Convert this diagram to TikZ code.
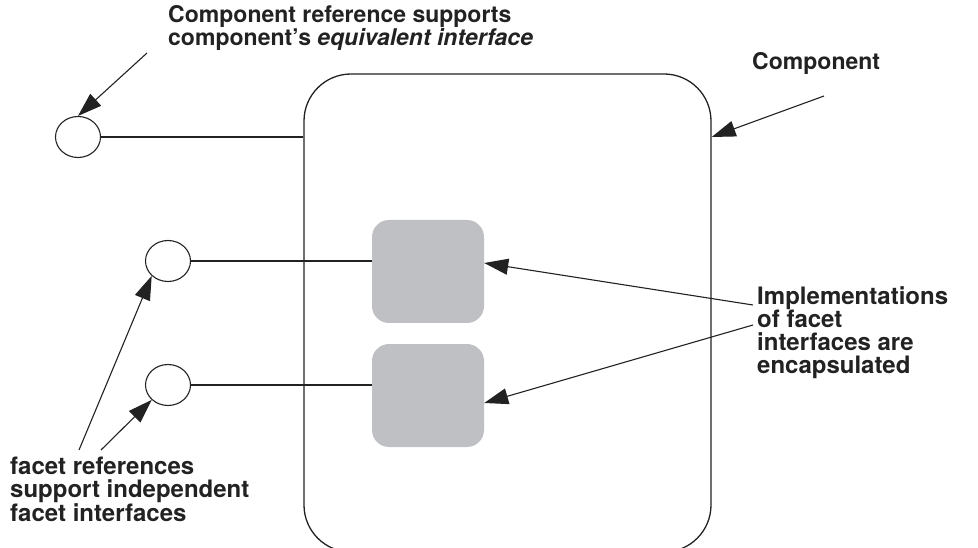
\documentclass[tikz,border=0pt]{standalone}
\usepackage{fontspec}
\setmainfont{TeX Gyre Heros}
\usetikzlibrary{arrows.meta,shapes.geometric}
\definecolor{implgray}{HTML}{BFC0C3}
\definecolor{ink}{HTML}{222222}
\begin{document}
\begin{tikzpicture}[x=1pt,y=-1pt,
  lbl/.style={font=\bfseries\fontsize{23}{21.5}\selectfont, align=left, inner sep=0pt, anchor=north west, text=ink},
  lblw/.style={lbl, font=\bfseries\fontsize{24}{23}\selectfont},
  iface/.style={draw=ink, line width=1.1pt, ellipse, minimum width=45pt, minimum height=41pt, inner sep=0pt},
  implbox/.style={fill=implgray, rounded corners=17pt, minimum width=112pt, minimum height=103pt, inner sep=0pt},
  conn/.style={draw=ink, line width=1.1pt},
  ptr/.style={draw=ink, line width=1.1pt, -{Triangle[length=24pt,width=16pt]}}
]
\useasboundingbox (0,0) rectangle (978,548);
\clip (0,0) rectangle (978,548);
% component box
\node[draw=ink, line width=1.3pt, rounded corners=47pt, minimum width=407pt, minimum height=478pt, inner sep=0pt] (comp) at (507.5,313) {};
% implementations
\node[implbox] (g1) at (428,271.5) {};
\node[implbox] (g2) at (428,395.5) {};
% interfaces
\node[iface] (ifc0) at (78,137) {};
\node[iface] (f1) at (168,261) {};
\node[iface] (f2) at (168,385) {};
% connecting lines
\draw[conn] (ifc0.east) -- (ifc0.east -| comp.west);
\draw[conn] (f1.east) -- (f1.east -| g1.west);
\draw[conn] (f2.east) -- (f2.east -| g2.west);
% labels
\node[lbl] (lab0) at (168,5) {Component reference supports\\component’s \textit{equivalent interface}};
\node[lbl] (labC) at (752,52) {Component};
\node[lblw] (labI) at (757,286) {Implementations\\of facet\\interfaces are\\encapsulated};
\node[lblw] (labF) at (10,457) {facet references\\support independent\\facet interfaces};
% pointer start coordinates
\coordinate (p0) at (147,53);
\coordinate (pC) at (824,96);
\coordinate (pI1) at (753,305);
\coordinate (pI2) at (753,325);
\coordinate (pF1) at (79,450);
\coordinate (pF2) at (101,450);
% pointers
\draw[ptr] (p0) -- (ifc0.north);
\draw[ptr] (pC) -- (comp.east |- ifc0);
\draw[ptr] (pI1) -- ([yshift=8.5pt]g1.east);
\draw[ptr] (pI2) -- ([yshift=-7.5pt]g2.east);
\draw[ptr] (pF1) -- (f1.south west);
\draw[ptr] (pF2) -- (f2.south west);
\end{tikzpicture}
\end{document}
